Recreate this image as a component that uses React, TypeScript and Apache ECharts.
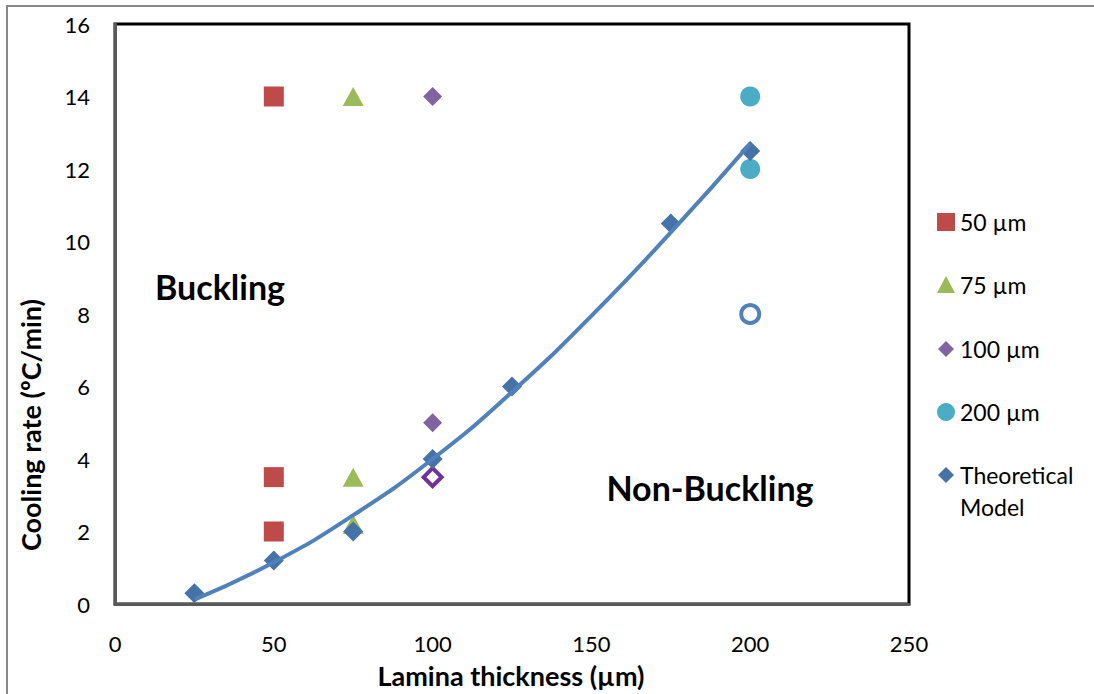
import React, { useEffect, useRef } from "react";
import * as echarts from "echarts";

const xTicks = [0, 50, 100, 150, 200, 250];
const yTicks = [0, 2, 4, 6, 8, 10, 12, 14, 16];

const s50: number[][] = [[50, 14], [50, 3.5], [50, 2]];
const s75: number[][] = [[75, 14], [75, 3.5], [75, 2.2]];
const s100: number[][] = [[100, 14], [100, 5]];
const s100Open: number[][] = [[100, 3.5]];
const s200: number[][] = [[200, 14], [200, 12]];
const s200Open: number[][] = [[200, 8]];
const theory: number[][] = [[25, 0.3], [50, 1.2], [75, 2], [100, 4], [125, 6], [175, 10.5], [200, 12.5]];
const trend: number[][] = [[25, 0.12], [50, 1.15], [75, 2.45], [100, 4.0], [125, 5.85], [150, 7.95], [175, 10.25], [200, 12.7]];

const legendNames = ["50 µm", "75 µm", "100 µm", "200 µm", "Theoretical Model"];
const annotations = ["Buckling", "Non-Buckling"];
const axisTitles = ["Lamina thickness (µm)", "Cooling rate (ºC/min)"];

const C_RED = "#BE4B48";
const C_GREEN = "#9BBB59";
const C_PURPLE = "#8064A2";
const C_TEAL = "#4BACC6";
const C_BLUE = "#4F81BD";
const C_DBLUE = "#4572A7";

const FONT = "Lato, 'Noto Sans', sans-serif";

export default function App() {
  const ref = useRef<HTMLDivElement>(null);
  useEffect(() => {
    if (!ref.current) return;
    const chart = echarts.init(ref.current, null, { renderer: "svg" });
    const diamond = "path://M0,-1L1,0L0,1L-1,0Z";
    const legY = [222, 285, 349, 412, 475];
    const lx = 946;
    const legendGraphics: any[] = [
      { type: "rect", shape: { x: lx - 9, y: legY[0] - 9, width: 18, height: 18 }, style: { fill: C_RED } },
      { type: "polygon", shape: { points: [[lx, legY[1] - 9], [lx + 9, legY[1] + 8], [lx - 9, legY[1] + 8]] }, style: { fill: C_GREEN } },
      { type: "polygon", shape: { points: [[lx, legY[2] - 8], [lx + 8, legY[2]], [lx, legY[2] + 8], [lx - 8, legY[2]]] }, style: { fill: C_PURPLE } },
      { type: "circle", shape: { cx: lx, cy: legY[3], r: 9 }, style: { fill: C_TEAL } },
      { type: "polygon", shape: { points: [[lx, legY[4] - 8], [lx + 8, legY[4]], [lx, legY[4] + 8], [lx - 8, legY[4]]] }, style: { fill: C_DBLUE } },
    ];
    legendNames.forEach((n, i) => {
      legendGraphics.push({
        type: "text",
        x: 960,
        y: i === 4 ? legY[i] - 16 : legY[i],
        style: {
          text: i === 4 ? "Theoretical\nModel" : n,
          fontFamily: FONT,
          fontSize: 23,
          fill: "#000",
          verticalAlign: i === 4 ? "top" : "middle",
          lineHeight: 32,
        },
      });
    });

    chart.setOption({
      animation: false,
      backgroundColor: "#fff",
      grid: { left: 115, right: 185, top: 24, bottom: 90, show: true, borderColor: "#000", borderWidth: 3, backgroundColor: "transparent" },
      xAxis: {
        type: "value",
        min: xTicks[0],
        max: xTicks[xTicks.length - 1],
        interval: 50,
        axisLine: { show: true, onZero: false, lineStyle: { color: "#595959", width: 3 } },
        axisTick: { show: false },
        splitLine: { show: false },
        axisLabel: { margin: 28, fontSize: 22, lineHeight: 22, fontFamily: FONT, color: "#000" },
      },
      yAxis: {
        type: "value",
        min: yTicks[0],
        max: yTicks[yTicks.length - 1],
        interval: 2,
        axisLine: { show: true, onZero: false, lineStyle: { color: "#595959", width: 3 } },
        axisTick: { show: false },
        splitLine: { show: false },
        axisLabel: { margin: 25, fontSize: 22, fontFamily: FONT, color: "#000" },
      },
      series: [
        { name: legendNames[0], type: "scatter", data: s50, symbol: "rect", symbolSize: 20, itemStyle: { color: C_RED, opacity: 1 } },
        { name: legendNames[1], type: "scatter", data: s75, symbol: "triangle", symbolSize: [21, 19], itemStyle: { color: C_GREEN, opacity: 1 } },
        { name: legendNames[2], type: "scatter", data: s100, symbol: diamond, symbolSize: 19, itemStyle: { color: C_PURPLE, opacity: 1 } },
        { name: legendNames[2] + " open", type: "scatter", data: s100Open, symbol: diamond, symbolSize: 18, itemStyle: { color: "#fff", borderColor: "#7030A0", borderWidth: 4, opacity: 1 } },
        { name: legendNames[3], type: "scatter", data: s200, symbol: "circle", symbolSize: 20, itemStyle: { color: C_TEAL, opacity: 1 } },
        { name: legendNames[3] + " open", type: "scatter", data: s200Open, symbol: "circle", symbolSize: 18, itemStyle: { color: "#fff", borderColor: C_BLUE, borderWidth: 4, opacity: 1 } },
        { name: legendNames[4], type: "scatter", data: theory, symbol: diamond, symbolSize: 20, itemStyle: { color: C_DBLUE, opacity: 1 } },
        { name: "trend", type: "line", data: trend, smooth: 0.5, showSymbol: false, symbol: "none", lineStyle: { color: C_BLUE, width: 4 } },
      ],
      graphic: [
        { type: "rect", shape: { x: 7, y: 6, width: 1100, height: 700 }, style: { fill: "none", stroke: "#888", lineWidth: 2 }, z: -1, silent: true },
        { type: "text", x: 220, y: 286, style: { text: annotations[0], fontFamily: FONT, fontWeight: "bold", fontSize: 34, fill: "#000", align: "center", verticalAlign: "middle" } },
        { type: "text", x: 710, y: 487, style: { text: annotations[1], fontFamily: FONT, fontWeight: "bold", fontSize: 34, fill: "#000", align: "center", verticalAlign: "middle" } },
        { type: "text", x: 511, y: 675, style: { text: axisTitles[0], fontFamily: FONT, fontWeight: "bold", fontSize: 27, lineHeight: 27, fill: "#000", align: "center", verticalAlign: "middle" } },
        { type: "text", x: 30, y: 425, rotation: Math.PI / 2, style: { text: axisTitles[1], fontFamily: FONT, fontWeight: "bold", fontSize: 27, fill: "#000", align: "center", verticalAlign: "middle" } },
        ...legendGraphics,
      ],
    });
    return () => chart.dispose();
  }, []);
  return <div ref={ref} style={{ position: "fixed", left: 0, top: 0, width: 1094, height: 694 }} />;
}
